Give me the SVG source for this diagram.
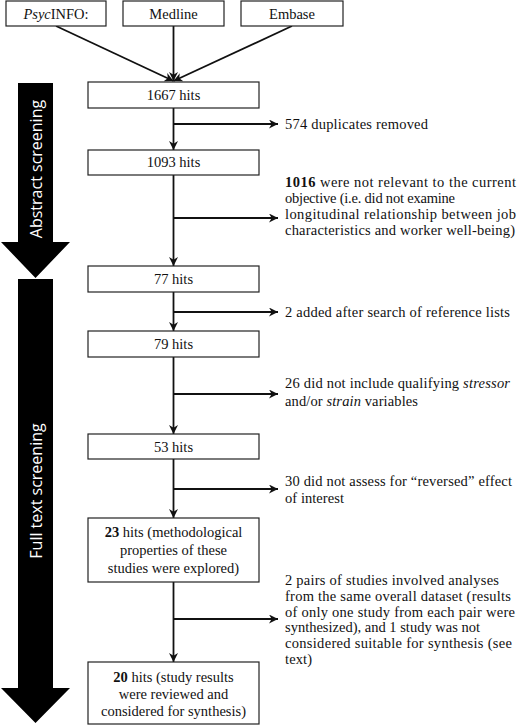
<svg xmlns="http://www.w3.org/2000/svg" width="517" height="727" viewBox="0 0 517 727">
<defs>
<marker id="ah" viewBox="0 0 10 10" refX="10" refY="5" markerWidth="9" markerHeight="9" markerUnits="userSpaceOnUse" orient="auto">
<path d="M0,0 L10,5 L0,10 L3,5 z" fill="#111"/>
</marker>
<style>
.box{fill:#fff;stroke:#222;stroke-width:1.2}
.t{font-family:"Liberation Serif","Times New Roman",serif;font-size:14.5px;fill:#111}
.c{text-anchor:middle}
.con{fill:none;stroke:#111;stroke-width:1.8;marker-end:url(#ah)}
.band{fill:#000}
.bt{font-family:"Open Sans","DejaVu Sans",sans-serif;font-size:16px;fill:#fff;text-anchor:middle}
</style>
</defs>
<rect width="517" height="727" fill="#fff"/>

<g id="stage-abstract">
<polygon class="band" points="18,83 53,83 53,242 70,242 35.5,278 1,242 18,242"/>
<text class="bt" transform="translate(36,169) rotate(-90)" x="0" y="5.7">Abstract screening</text>
</g>
<g id="stage-fulltext">
<polygon class="band" points="18,279 53,279 53,688 70,688 35.5,723 1,688 18,688"/>
<text class="bt" transform="translate(36,491) rotate(-90)" x="0" y="5.7">Full text screening</text>
</g>

<g id="connectors">
<line class="con" x1="56" y1="26" x2="173.5" y2="81"/>
<line class="con" x1="173.5" y1="26" x2="173.5" y2="81"/>
<line class="con" x1="292" y1="26" x2="173.5" y2="81"/>
<line class="con" x1="173.5" y1="108" x2="173.5" y2="150"/>
<line class="con" x1="173.5" y1="175" x2="173.5" y2="266"/>
<line class="con" x1="173.5" y1="292" x2="173.5" y2="331"/>
<line class="con" x1="173.5" y1="357" x2="173.5" y2="434"/>
<line class="con" x1="173.5" y1="459" x2="173.5" y2="518"/>
<line class="con" x1="173.5" y1="582" x2="173.5" y2="662"/>
<line class="con" x1="173.5" y1="124" x2="278" y2="124"/>
<line class="con" x1="173.5" y1="218" x2="278" y2="218"/>
<line class="con" x1="173.5" y1="312" x2="278" y2="312"/>
<line class="con" x1="173.5" y1="394" x2="278" y2="394"/>
<line class="con" x1="173.5" y1="489" x2="278" y2="489"/>
<line class="con" x1="173.5" y1="619" x2="278" y2="619"/>
</g>

<g id="psycinfo"><rect class="box" x="6" y="1" width="100" height="25"/><text class="t c" x="56" y="18.5"><tspan font-style="italic">Psyc</tspan>INFO:</text></g>
<g id="medline"><rect class="box" x="123" y="1" width="101" height="25"/><text class="t c" x="173.5" y="18.5">Medline</text></g>
<g id="embase"><rect class="box" x="241" y="1" width="102" height="25"/><text class="t c" x="292" y="18.5">Embase</text></g>

<g id="hits1667"><rect class="box" x="88" y="82" width="171" height="26"/><text class="t c" x="173.5" y="100">1667 hits</text></g>
<g id="hits1093"><rect class="box" x="88" y="150" width="171" height="25"/><text class="t c" x="173.5" y="167">1093 hits</text></g>
<g id="hits77"><rect class="box" x="88" y="266" width="171" height="26"/><text class="t c" x="173.5" y="284">77 hits</text></g>
<g id="hits79"><rect class="box" x="88" y="331" width="171" height="26"/><text class="t c" x="173.5" y="349">79 hits</text></g>
<g id="hits53"><rect class="box" x="88" y="434" width="171" height="25"/><text class="t c" x="173.5" y="451.5">53 hits</text></g>
<g id="hits23"><rect class="box" x="88" y="518" width="171" height="64"/>
<text class="t c" x="173.5" y="537"><tspan font-weight="bold">23</tspan> hits (methodological</text>
<text class="t c" x="173.5" y="555">properties of these</text>
<text class="t c" x="173.5" y="573">studies were explored)</text></g>
<g id="hits20"><rect class="box" x="88" y="662" width="171" height="62"/>
<text class="t c" x="173.5" y="682"><tspan font-weight="bold">20</tspan> hits (study results</text>
<text class="t c" x="173.5" y="699">were reviewed and</text>
<text class="t c" x="173.5" y="716">considered for synthesis)</text></g>

<g id="excl-dup"><text class="t" x="285" y="129" textLength="143">574 duplicates removed</text></g>
<g id="excl-relevance">
<text class="t" x="285" y="187" textLength="231"><tspan font-weight="bold">1016</tspan> were not relevant to the current</text>
<text class="t" x="285" y="203" textLength="170">objective (i.e. did not examine</text>
<text class="t" x="285" y="219" textLength="231">longitudinal  relationship between job</text>
<text class="t" x="285" y="235" textLength="230">characteristics and worker well-being)</text>
</g>
<g id="add-ref"><text class="t" x="285" y="317" textLength="225">2 added after search of reference lists</text></g>
<g id="excl-vars">
<text class="t" x="285" y="388" textLength="225">26 did not include qualifying <tspan font-style="italic">stressor</tspan></text>
<text class="t" x="285" y="406" textLength="133">and/or <tspan font-style="italic">strain</tspan> variables</text>
</g>
<g id="excl-reversed">
<text class="t" x="285" y="486" textLength="227">30 did not assess for “reversed” effect</text>
<text class="t" x="285" y="503" textLength="59">of interest</text>
</g>
<g id="excl-pairs">
<text class="t" x="285" y="585" textLength="214">2 pairs of studies involved analyses</text>
<text class="t" x="285" y="601" textLength="226">from the same overall dataset (results</text>
<text class="t" x="285" y="617" textLength="230">of only one study from each pair were</text>
<text class="t" x="285" y="632" textLength="195">synthesized), and 1 study was not</text>
<text class="t" x="285" y="648" textLength="227">considered suitable for synthesis (see</text>
<text class="t" x="285" y="664" textLength="27">text)</text>
</g>
</svg>
